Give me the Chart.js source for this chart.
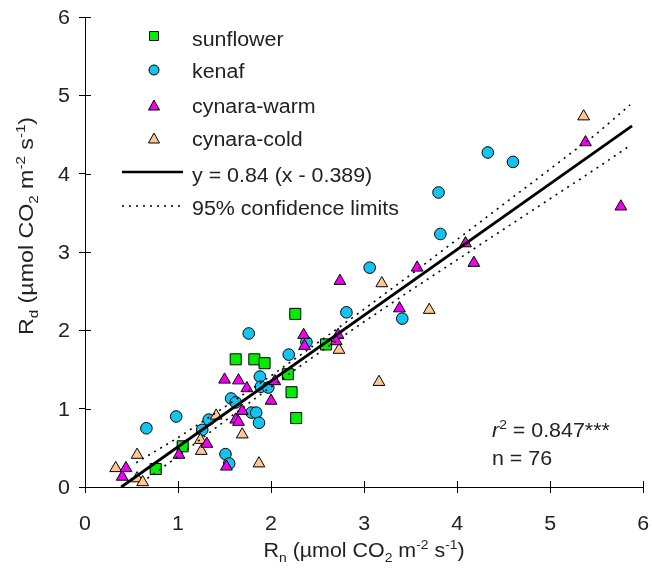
<!DOCTYPE html>
<html>
<head>
<meta charset="utf-8">
<script src="https://cdn.jsdelivr.net/npm/chart.js@4.4.0/dist/chart.umd.min.js"></script>
<style>
html,body{margin:0;padding:0;background:#fff}
</style>
</head>
<body>
<canvas id="c" width="652" height="575"></canvas>
<script>
// data
const sunflowerX = [0.76, 1.05, 1.62, 1.82, 1.93, 2.18, 2.22, 2.27, 2.26, 2.59];
const sunflowerY = [0.23, 0.52, 1.63, 1.63, 1.58, 1.44, 1.21, 0.88, 2.21, 1.82];

const kenafX = [0.66, 0.98, 1.26, 1.33, 1.51, 1.55, 1.57, 1.62, 1.79, 1.84, 1.87, 1.88, 1.89, 1.97, 1.76, 2.19, 2.38, 2.81, 3.06, 3.41, 3.80, 3.82, 4.33, 4.60];
const kenafY = [0.75, 0.90, 0.73, 0.86, 0.42, 0.30, 1.13, 1.08, 0.95, 0.95, 0.82, 1.41, 1.28, 1.27, 1.96, 1.69, 1.85, 2.23, 2.80, 2.15, 3.76, 3.23, 4.27, 4.15];

const warmX = [0.40, 0.44, 1.01, 1.31, 1.52, 1.50, 1.65, 1.74, 1.62, 1.65, 1.69, 2.00, 2.04, 2.35, 2.36, 2.72, 2.70, 2.74, 3.38, 3.57, 4.09, 4.18, 5.38, 5.76];
const warmY = [0.13, 0.24, 0.41, 0.55, 0.26, 1.37, 1.36, 1.26, 0.86, 0.83, 0.97, 1.10, 1.35, 1.94, 1.80, 1.94, 1.86, 2.63, 2.28, 2.80, 3.11, 2.86, 4.40, 3.58];

const coldX = [0.33, 0.56, 0.56, 0.62, 1.24, 1.25, 1.41, 1.69, 1.87, 2.73, 3.16, 3.19, 3.70, 5.36];
const coldY = [0.24, 0.41, 0.11, 0.06, 0.60, 0.46, 0.91, 0.67, 0.30, 1.75, 1.34, 2.60, 2.26, 4.73];

// regression line and 95% limits
const fitX = [0.389, 5.88];
const fitY = [0, 4.61];
const upperX = [0.55, 1.0, 1.5, 2.0, 2.5, 3.0, 3.5, 4.0, 4.5, 5.0, 5.5, 5.86];
const upperY = [0.31, 0.63, 1.02, 1.42, 1.84, 2.27, 2.71, 3.16, 3.61, 4.06, 4.51, 4.88];
const lowerX = [0.67, 1.0, 1.5, 2.0, 2.5, 3.0, 3.5, 4.0, 4.5, 5.0, 5.5, 5.86];
const lowerY = [0.11, 0.39, 0.84, 1.28, 1.70, 2.11, 2.51, 2.90, 3.29, 3.68, 4.07, 4.36];

const xTicks = [0, 1, 2, 3, 4, 5, 6];
const yTicks = [0, 1, 2, 3, 4, 5, 6];

const legendNames = ["sunflower", "kenaf", "cynara-warm", "cynara-cold"];
const fitLabel = "y = 0.84 (x - 0.389)";
const bandLabel = "95% confidence limits";

const GREEN = '#00ee00', CYAN = '#12c4ef', MAGENTA = '#f000f0', PEACH = '#ffc896';
const FONT = '"Liberation Sans", Arial, sans-serif';

function pts(xs, ys){ return xs.map((x,i)=>({x:x, y:ys[i]})); }

function pointSet(label, xs, ys, style, radius, color, order){
    return {label, data: pts(xs, ys), pointStyle: style, pointRadius: radius, pointHoverRadius: radius,
        backgroundColor: color, borderColor: '#000', borderWidth: 1, showLine: false, order};
}
function lineSet(xs, ys, width, dash){
    return {data: pts(xs, ys), showLine: true, pointRadius: 0, borderColor: '#000',
        borderWidth: width, borderDash: dash, tension: 0, fill: false, order: 0};
}

// rich text: parts = [[text, kind]], kind '', 'sub', 'sup', 'i'
function rich(ctx, parts, x, y, align, sx){
    sx = sx || 1.07;
    const fontOf = k => (k=='i' ? 'italic ' : '') + ((k=='sub'||k=='sup') ? 13 : 20) + 'px ' + FONT;
    let w = 0;
    parts.forEach(p=>{ ctx.font = fontOf(p[1]); w += ctx.measureText(p[0]).width; });
    ctx.save();
    ctx.translate(x, y);
    ctx.scale(sx, 1);
    let cx = align=='center' ? -w/2 : (align=='right' ? -w : 0);
    ctx.textAlign = 'left';
    ctx.textBaseline = 'alphabetic';
    ctx.fillStyle = '#222';
    parts.forEach(p=>{
        ctx.font = fontOf(p[1]);
        let dy = p[1]=='sub' ? 5 : (p[1]=='sup' ? -8 : 0);
        ctx.fillText(p[0], cx, dy);
        cx += ctx.measureText(p[0]).width;
    });
    ctx.restore();
}

function marker(ctx, kind, x, y, color){
    ctx.save();
    ctx.fillStyle = color; ctx.strokeStyle = '#000'; ctx.lineWidth = 1;
    ctx.beginPath();
    if(kind=='rect') ctx.rect(x-4.5, y-4.5, 9, 9);
    else if(kind=='circle') ctx.arc(x, y, 5, 0, Math.PI*2);
    else { ctx.moveTo(x, y-6); ctx.lineTo(x+5.5, y+4); ctx.lineTo(x-5.5, y+4); ctx.closePath(); }
    ctx.fill(); ctx.stroke();
    ctx.restore();
}

const decor = {
    id: 'decor',
    afterDraw(chart){
        const ctx = chart.ctx, xs = chart.scales.x, ys = chart.scales.y;
        const a = chart.chartArea;
        // inner half of tick marks
        ctx.save();
        ctx.strokeStyle = '#000'; ctx.lineWidth = 1;
        ctx.beginPath();
        xTicks.forEach(v=>{ let p = Math.round(xs.getPixelForValue(v))+0.5; ctx.moveTo(p, a.bottom); ctx.lineTo(p, a.bottom-6); });
        yTicks.forEach(v=>{ let p = Math.round(ys.getPixelForValue(v))+0.5; ctx.moveTo(a.left, p); ctx.lineTo(a.left+6, p); });
        ctx.stroke();
        ctx.restore();

        // tick labels
        xTicks.forEach(v=> rich(ctx, [[String(v), '']], xs.getPixelForValue(v), 530, 'center'));
        yTicks.forEach(v=> rich(ctx, [[String(v), '']], 70, ys.getPixelForValue(v)+7, 'right'));

        // axis titles
        rich(ctx, [['R',''],['n','sub'],[' (\u00b5mol CO',''],['2','sub'],[' m',''],['-2','sup'],[' s',''],['-1','sup'],[')','']],
            (a.left+a.right)/2, 557, 'center');
        ctx.save();
        ctx.translate(33, 226);
        ctx.rotate(-Math.PI/2);
        rich(ctx, [['R',''],['d','sub'],[' (\u00b5mol CO',''],['2','sub'],[' m',''],['-2','sup'],[' s',''],['-1','sup'],[')','']], 0, 0, 'center', 1.16);
        ctx.restore();

        // legend
        const kinds = ['rect','circle','triangle','triangle'];
        const cols = [GREEN, CYAN, MAGENTA, PEACH];
        const my = [36, 70, 106, 139];
        const ty = [46, 78, 113, 146];
        legendNames.forEach((n,i)=>{
            marker(ctx, kinds[i], 154, my[i], cols[i]);
            rich(ctx, [[n,'']], 192, ty[i], 'left');
        });
        ctx.save();
        ctx.strokeStyle = '#000';
        ctx.lineWidth = 2.5;
        ctx.beginPath(); ctx.moveTo(122, 172); ctx.lineTo(183, 172); ctx.stroke();
        ctx.lineWidth = 1.5;
        ctx.setLineDash([2,5]);
        ctx.beginPath(); ctx.moveTo(122, 206); ctx.lineTo(183, 206); ctx.stroke();
        ctx.restore();
        rich(ctx, [[fitLabel,'']], 192, 182, 'left');
        rich(ctx, [[bandLabel,'']], 192, 215, 'left');

        // statistics
        rich(ctx, [['r','i'],['2','sup'],[' = 0.847***','']], 492, 437, 'left');
        rich(ctx, [['n = 76','']], 492, 465, 'left');
    }
};

new Chart(document.getElementById('c'), {
    type: 'scatter',
    data: {
        datasets: [
            lineSet(fitX, fitY, 2.8, []),
            lineSet(upperX, upperY, 1.6, [2,5]),
            lineSet(lowerX, lowerY, 1.6, [2,5]),
            pointSet(legendNames[3], coldX, coldY, 'triangle', 6.8, PEACH, 3),
            pointSet(legendNames[2], warmX, warmY, 'triangle', 6.8, MAGENTA, 2),
            pointSet(legendNames[0], sunflowerX, sunflowerY, 'rect', 7.8, GREEN, 4),
            pointSet(legendNames[1], kenafX, kenafY, 'circle', 5.8, CYAN, 5)
        ]
    },
    options: {
        responsive: false,
        animation: false,
        clip: false,
        layout: {padding: {top: 17, right: 3, left: 0, bottom: 0}},
        plugins: {legend: {display: false}, tooltip: {enabled: false}},
        scales: {
            x: {
                type: 'linear', min: 0, max: 6,
                ticks: {display: false, stepSize: 1},
                grid: {drawOnChartArea: false, drawTicks: true, tickLength: 6, color: '#000'},
                border: {color: '#000', width: 1},
                afterFit(s){ s.height = 88; s.paddingLeft = 0; s.paddingRight = 0; }
            },
            y: {
                type: 'linear', min: 0, max: 6,
                ticks: {display: false, stepSize: 1},
                grid: {drawOnChartArea: false, drawTicks: true, tickLength: 6, color: '#000'},
                border: {color: '#000', width: 1},
                afterFit(s){ s.width = 85; s.paddingTop = 0; s.paddingBottom = 0; }
            }
        }
    },
    plugins: [decor]
});
</script>
</body>
</html>
